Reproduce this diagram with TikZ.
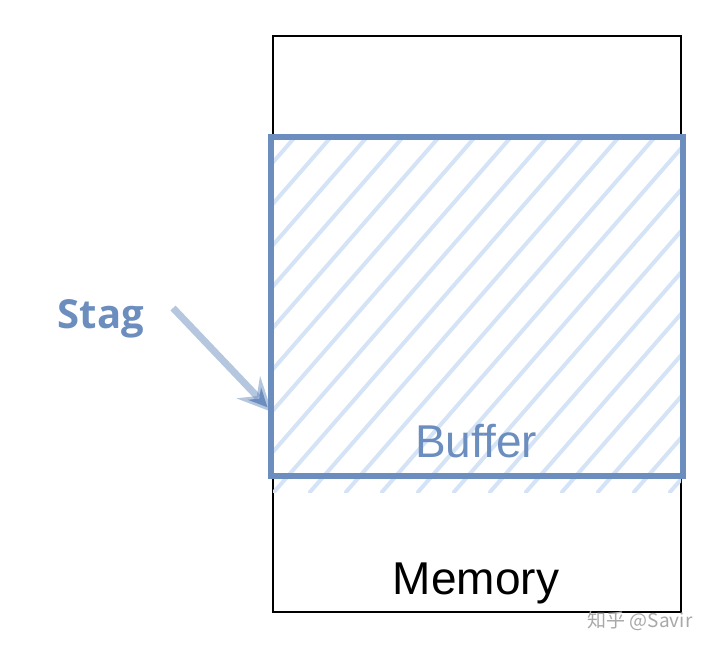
\documentclass[tikz,border=0pt]{standalone}
\usepackage{fontspec}
\setmainfont{Liberation Sans}
\newfontfamily\stagfont{Open Sans}
\newfontfamily\cjkfont{Noto Sans CJK SC}
\usetikzlibrary{arrows.meta}
\definecolor{bufblue}{HTML}{6C8EBF}
\definecolor{hatchblue}{HTML}{D4E3F6}
\definecolor{wmgray}{HTML}{A8A8A8}
\tikzset{
  membox/.style={draw=black, line width=2.2pt, minimum width=408pt, minimum height=576pt, inner sep=0pt},
  bufbox/.style={draw=bufblue, line width=6pt, minimum width=412pt, minimum height=339pt, inner sep=0pt},
  hatchline/.style={draw=hatchblue, line width=4pt, line cap=round},
  bigtext/.style={font=\fontsize{46}{50}\selectfont, inner sep=0pt, anchor=base},
  stagtext/.style={font=\stagfont\bfseries\fontsize{40}{44}\selectfont, text=bufblue, inner sep=0pt, anchor=base},
  pointer/.style={draw=bufblue, draw opacity=0.5, line width=7pt, -{Stealth[length=34pt,width=32pt,inset=12pt]}},
}
\begin{document}
\begin{tikzpicture}[x=1pt,y=-1pt]
\useasboundingbox (0,0) rectangle (720,649);
\node[membox] (mem) at (477,324) {};
\begin{scope}
  \clip (273,139) rectangle (681,492);
  \foreach \k in {-420,-384,...,420} {
    \draw[hatchline] (\k+262,492) -- (\k+262+309,137);
  }
\end{scope}
\node[bufbox] (buf) at (477,306.5) {};
\node[bigtext, text=bufblue] (buftxt) at (476,457) {Buffer};
\node[bigtext, text=black] (memtxt) at (476,594) {Memory};
\node[stagtext] (stag) at (101,328) {Stag};
\coordinate (arrs) at (173,308);
\coordinate (arre) at (272,412);
\draw[pointer] (arrs) -- (arre);
\node[font=\cjkfont\fontsize{19}{22}\selectfont, text=wmgray, inner sep=0pt] (wm) at (640,621) {知乎 @Savir};
\end{tikzpicture}
\end{document}
